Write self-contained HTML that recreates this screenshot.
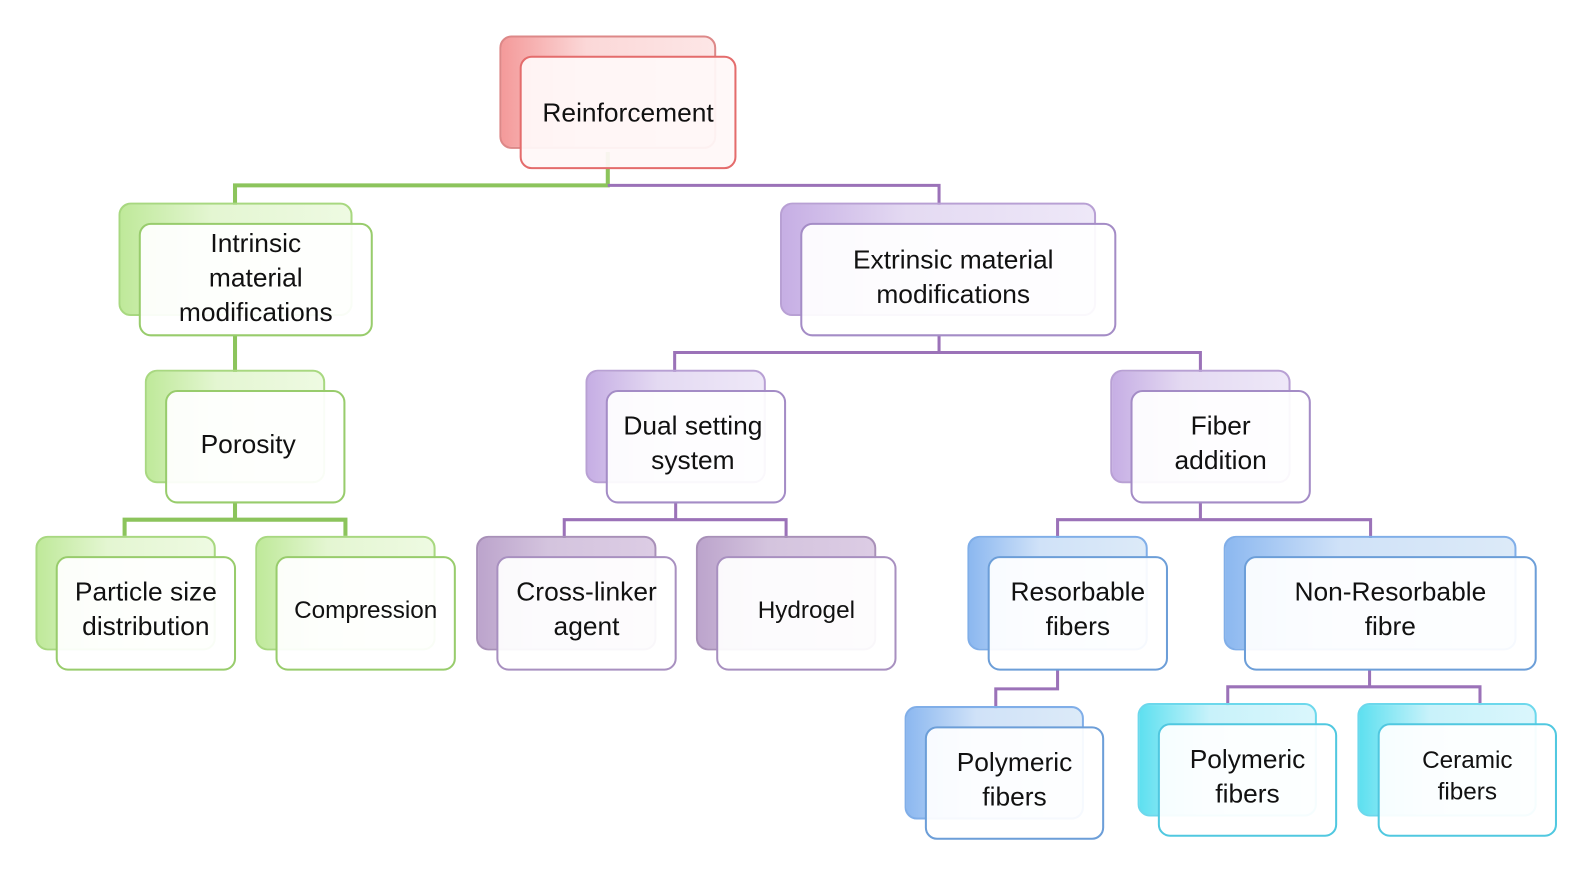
<!DOCTYPE html>
<html><head><meta charset="utf-8"><style>
html,body{margin:0;padding:0;background:#fff;width:1590px;height:880px;overflow:hidden}
#w{position:absolute;left:0;top:0;width:1570px;height:870px;transform:scale(1.013);transform-origin:0 0}
.b{position:absolute;border-radius:12px;box-sizing:border-box;border:2px solid}
.f{position:absolute;border-radius:12px;box-sizing:border-box;border:2px solid;background:rgba(255,255,255,0.93);display:flex;align-items:center;justify-content:center;text-align:center;font-family:"Liberation Sans",sans-serif;font-size:26px;line-height:34px;color:#111}
.l{position:absolute}
.r .b{border-color:#d88;background:linear-gradient(90deg,#f49a9a,#fbd8d8 40%,#fde6e6)}
.r .f{border-color:#e46c6c;background:rgba(255,248,248,0.94)}
.g .b{border-color:#a8d880;background:linear-gradient(90deg,#bfe99a,#e4f6d2 40%,#eefae2)}
.g .f{border-color:#98cc6c}
.p .b{border-color:#b8a0d4;background:linear-gradient(90deg,#c6aee4,#e4daf2 40%,#eee8f8)}
.p .f{border-color:#a48cc6}
.d .b{border-color:#a890b8;background:linear-gradient(90deg,#bca4cc,#d4c4de 40%,#dccce4)}
.d .f{border-color:#a890c0}
.u .b{border-color:#80aee8;background:linear-gradient(90deg,#8cb8f0,#d0e2f8 40%,#dceaf8)}
.u .f{border-color:#6c9ed8}
.c .b{border-color:#6cd8ec;background:linear-gradient(90deg,#5ee0f0,#c8f2fa 40%,#daf6fc)}
.c .f{border-color:#50c8e0}
</style></head><body><div id="w">
<svg class="l" width="1570" height="870" style="left:0;top:0" fill="none" stroke-width="4">
<path d="M600 150 V183 H232 V205" stroke="#8cc45c"/>
<path d="M600 183 H927 V205" stroke="#9b72b8" stroke-width="3"/>
<path d="M232 330 V370" stroke="#8cc45c"/>
<path d="M232 495 V513 M123 529 V513 H341 V529" stroke="#8cc45c"/>
<path d="M927 330 V348 H666 V370 M927 348 H1185 V370" stroke="#9b72b8" stroke-width="3"/>
<path d="M667 495 V513 H557 V534 M667 513 H776 V534" stroke="#9b72b8" stroke-width="3"/>
<path d="M1185 495 V513 H1044 V534 M1185 513 H1353 V534" stroke="#9b72b8" stroke-width="3"/>
<path d="M1044 660 V680 H983 V702" stroke="#9b72b8" stroke-width="3"/>
<path d="M1352 660 V678 H1212 V699 M1352 678 H1461 V699" stroke="#9b72b8" stroke-width="3"/>
</svg>
<div class="r"><div class="b" style="left:493px;top:35px;width:214px;height:112px"></div><div class="f" style="left:513px;top:55px;width:214px;height:112px">Reinforcement</div></div>
<div class="g"><div class="b" style="left:117px;top:200px;width:231px;height:112px"></div><div class="f" style="left:137px;top:220px;width:231px;height:112px;padding-bottom:4px">Intrinsic<br>material<br>modifications</div></div>
<div class="p"><div class="b" style="left:770px;top:200px;width:312px;height:112px"></div><div class="f" style="left:790px;top:220px;width:312px;height:112px;padding-right:10px;padding-bottom:6px">Extrinsic material<br>modifications</div></div>
<div class="g"><div class="b" style="left:143px;top:365px;width:178px;height:112px"></div><div class="f" style="left:163px;top:385px;width:178px;height:112px;padding-right:14px;padding-bottom:6px">Porosity</div></div>
<div class="p"><div class="b" style="left:578px;top:365px;width:178px;height:112px"></div><div class="f" style="left:598px;top:385px;width:178px;height:112px;padding-right:6px;padding-bottom:8px">Dual setting<br>system</div></div>
<div class="p"><div class="b" style="left:1096px;top:365px;width:178px;height:112px"></div><div class="f" style="left:1116px;top:385px;width:178px;height:112px;padding-right:0;padding-bottom:8px">Fiber<br>addition</div></div>
<div class="g"><div class="b" style="left:35px;top:529px;width:178px;height:113px"></div><div class="f" style="left:55px;top:549px;width:178px;height:113px;padding-bottom:10px">Particle size<br>distribution</div></div>
<div class="g"><div class="b" style="left:252px;top:529px;width:178px;height:113px"></div><div class="f" style="left:272px;top:549px;width:178px;height:113px;font-size:24px;padding-right:0;padding-bottom:6px">Compression</div></div>
<div class="d"><div class="b" style="left:470px;top:529px;width:178px;height:113px"></div><div class="f" style="left:490px;top:549px;width:178px;height:113px;padding-bottom:10px">Cross-linker<br>agent</div></div>
<div class="d"><div class="b" style="left:687px;top:529px;width:178px;height:113px"></div><div class="f" style="left:707px;top:549px;width:178px;height:113px;font-size:24px;padding-bottom:6px">Hydrogel</div></div>
<div class="u"><div class="b" style="left:955px;top:529px;width:178px;height:113px"></div><div class="f" style="left:975px;top:549px;width:178px;height:113px;padding-right:0;padding-bottom:10px">Resorbable<br>fibers</div></div>
<div class="u"><div class="b" style="left:1208px;top:529px;width:289px;height:113px"></div><div class="f" style="left:1228px;top:549px;width:289px;height:113px;padding-bottom:10px">Non-Resorbable<br>fibre</div></div>
<div class="u"><div class="b" style="left:893px;top:697px;width:177px;height:112px"></div><div class="f" style="left:913px;top:717px;width:177px;height:112px;padding-bottom:8px">Polymeric<br>fibers</div></div>
<div class="c"><div class="b" style="left:1123px;top:694px;width:177px;height:112px"></div><div class="f" style="left:1143px;top:714px;width:177px;height:112px;padding-bottom:8px">Polymeric<br>fibers</div></div>
<div class="c"><div class="b" style="left:1340px;top:694px;width:177px;height:112px"></div><div class="f" style="left:1360px;top:714px;width:177px;height:112px;font-size:24px;line-height:31px;padding-right:0;padding-bottom:8px">Ceramic<br>fibers</div></div>
</div></body></html>
